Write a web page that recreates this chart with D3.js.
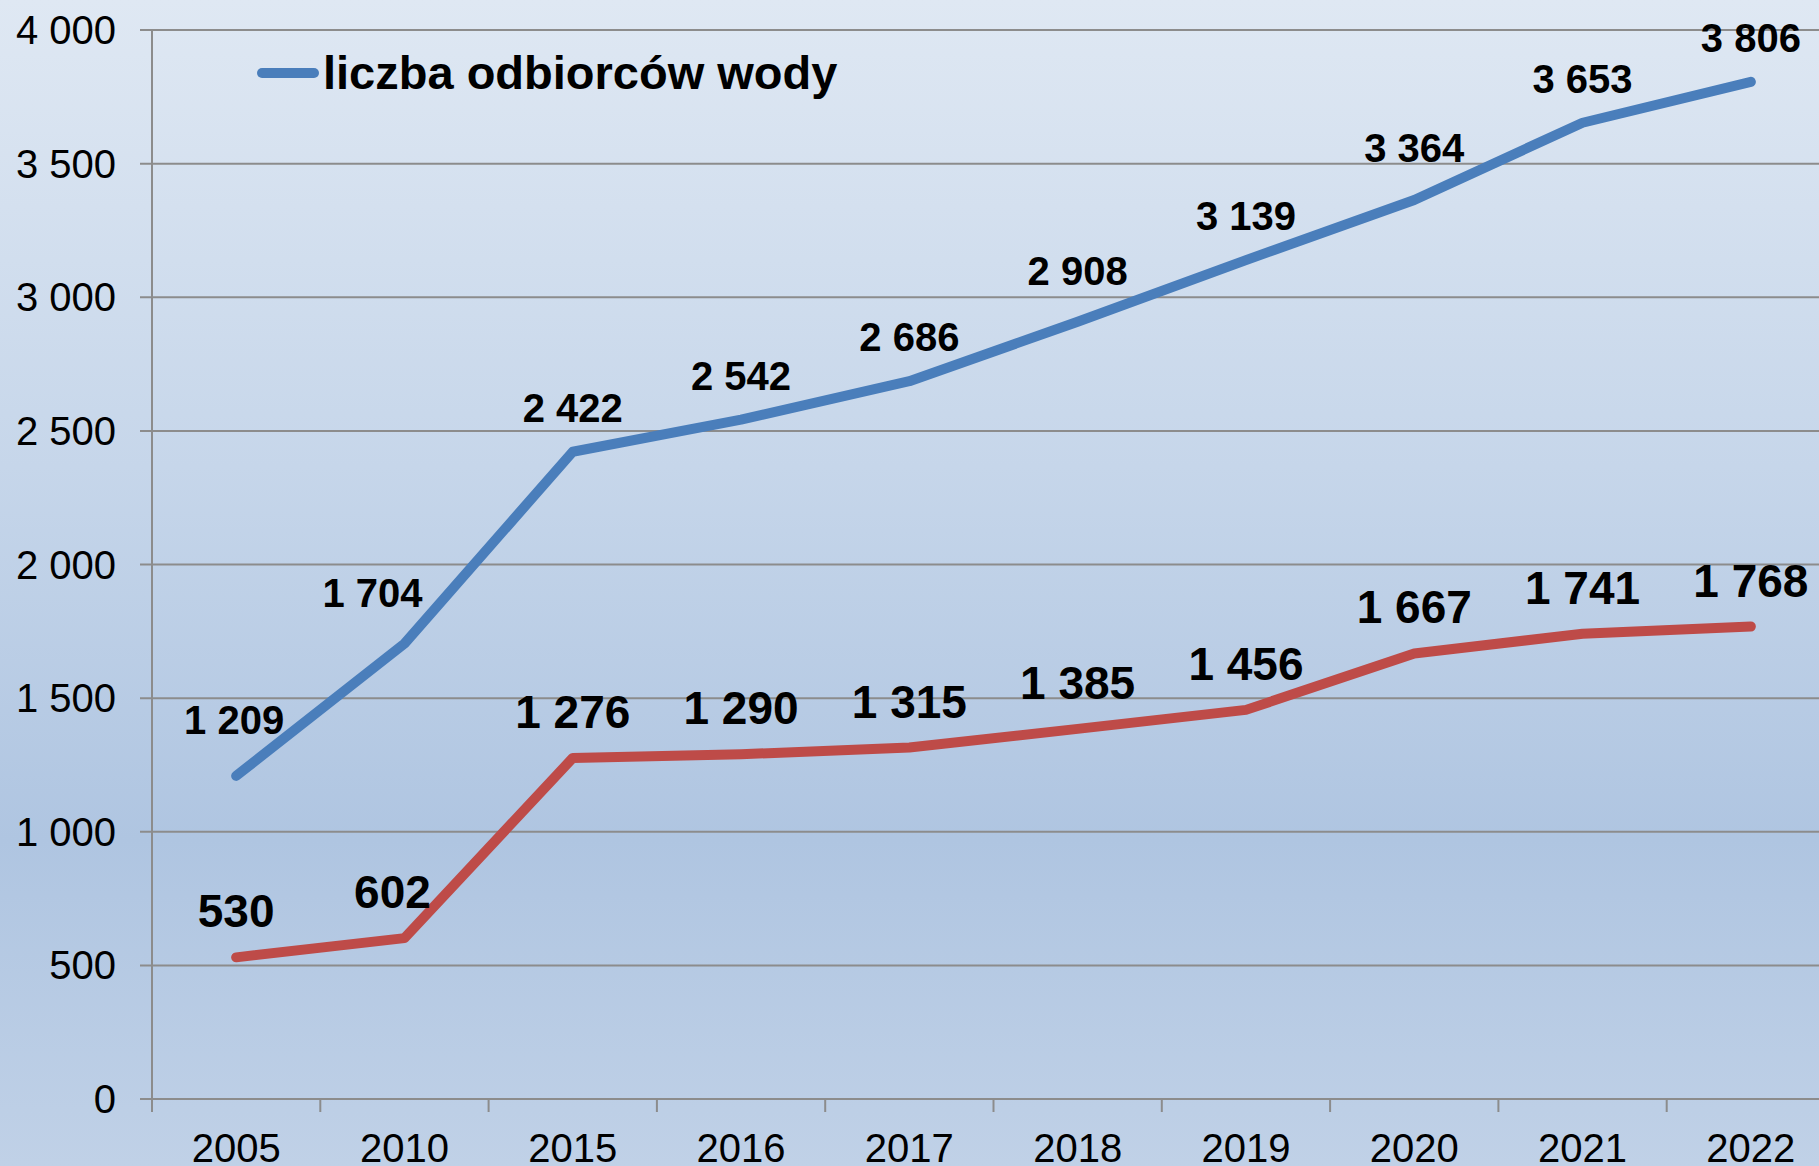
<!DOCTYPE html>
<html>
<head>
<meta charset="utf-8">
<script src="https://cdn.jsdelivr.net/npm/d3@7"></script>
<style>
  html, body { margin: 0; padding: 0; overflow: hidden; }
  svg { display: block; font-family: "Liberation Sans", Arial, sans-serif; }
</style>
</head>
<body>
<div id="chart"></div>
<script>
const years = ["2005", "2010", "2015", "2016", "2017", "2018", "2019", "2020", "2021", "2022"];
const odbiorcyWody = [1209, 1704, 2422, 2542, 2686, 2908, 3139, 3364, 3653, 3806];
const drugaSeria = [530, 602, 1276, 1290, 1315, 1385, 1456, 1667, 1741, 1768];
const yTicks = [0, 500, 1000, 1500, 2000, 2500, 3000, 3500, 4000];
const legendLabel = "liczba odbiorców wody";

const W = 1819, H = 1166;
const margin = { top: 30, left: 152 };
const plotW = 1683, plotH = 1069;

const svg = d3.select("#chart")
    .append("svg")
    .attr("width", W)
    .attr("height", H);

// background gradient
const grad = svg.append("defs").append("linearGradient")
    .attr("id", "bg")
    .attr("x1", 0).attr("y1", 0).attr("x2", 0).attr("y2", 1);
grad.append("stop").attr("offset", "0%").attr("stop-color", "#dfe8f3");
grad.append("stop").attr("offset", "40%").attr("stop-color", "#c6d6ea");
grad.append("stop").attr("offset", "72%").attr("stop-color", "#afc5e1");
grad.append("stop").attr("offset", "100%").attr("stop-color", "#c0d1e7");

svg.append("rect")
    .attr("width", W).attr("height", H)
    .attr("fill", "url(#bg)");

const g = svg.append("g")
    .attr("transform", `translate(${margin.left},${margin.top})`);

const x = d3.scaleBand()
    .domain(years)
    .range([0, plotW]);

const y = d3.scaleLinear()
    .domain([0, 4000])
    .range([plotH, 0]);

const fmt = v => d3.format(",")(v).replace(/,/g, " ");

// gridlines
g.append("g")
    .selectAll("line")
    .data(yTicks)
    .join("line")
    .attr("x1", -12)
    .attr("x2", plotW)
    .attr("y1", d => y(d))
    .attr("y2", d => y(d))
    .attr("stroke", "#8c8c8c")
    .attr("stroke-width", 2);

// y axis labels
g.append("g")
    .selectAll("text")
    .data(yTicks)
    .join("text")
    .attr("x", -36)
    .attr("y", d => y(d))
    .attr("dy", "0.35em")
    .attr("text-anchor", "end")
    .attr("font-size", 40)
    .attr("fill", "#000")
    .text(d => fmt(d));

// left axis line
g.append("line")
    .attr("x1", 0).attr("x2", 0)
    .attr("y1", 0).attr("y2", plotH + 13)
    .attr("stroke", "#8c8c8c")
    .attr("stroke-width", 2);

// x axis ticks at band boundaries
g.append("g")
    .selectAll("line")
    .data(years)
    .join("line")
    .attr("x1", d => x(d) + x.bandwidth())
    .attr("x2", d => x(d) + x.bandwidth())
    .attr("y1", plotH)
    .attr("y2", plotH + 13)
    .attr("stroke", "#8c8c8c")
    .attr("stroke-width", 2);

// x axis labels
g.append("g")
    .selectAll("text")
    .data(years)
    .join("text")
    .attr("x", d => x(d) + x.bandwidth() / 2)
    .attr("y", plotH + 63)
    .attr("text-anchor", "middle")
    .attr("font-size", 40)
    .attr("fill", "#000")
    .text(d => d);

const line = d3.line()
    .x((d, i) => x(years[i]) + x.bandwidth() / 2)
    .y(d => y(d));

// small label nudges where Excel pushed labels off the line
const series = [
    { values: odbiorcyWody, color: "#4a7ebb", fontSize: 40, lift: 30,
      nudge: { "2005": [-2, 12], "2010": [-32, 7], "2018": [0, 7], "2020": [0, 8] } },
    { values: drugaSeria, color: "#be4b48", fontSize: 46, lift: 30,
      nudge: { "2010": [-12, 0] } }
];

series.forEach(s => {
    g.append("path")
        .datum(s.values)
        .attr("d", line)
        .attr("fill", "none")
        .attr("stroke", s.color)
        .attr("stroke-width", 10)
        .attr("stroke-linecap", "round")
        .attr("stroke-linejoin", "round");
});

series.forEach(s => {
    g.append("g")
        .selectAll("text")
        .data(s.values)
        .join("text")
        .attr("x", (d, i) => x(years[i]) + x.bandwidth() / 2 + ((s.nudge[years[i]] || [0, 0])[0]))
        .attr("y", (d, i) => y(d) - s.lift - ((s.nudge[years[i]] || [0, 0])[1]))
        .attr("text-anchor", "middle")
        .attr("font-size", s.fontSize)
        .attr("font-weight", "bold")
        .attr("fill", "#000")
        .text(d => fmt(d));
});

// legend
const legend = svg.append("g").attr("transform", "translate(258,73)");
legend.append("line")
    .attr("x1", 4).attr("x2", 56)
    .attr("y1", 0).attr("y2", 0)
    .attr("stroke", "#4a7ebb")
    .attr("stroke-width", 10)
    .attr("stroke-linecap", "round");
legend.append("text")
    .attr("x", 65)
    .attr("y", 0)
    .attr("dy", "0.35em")
    .attr("font-size", 47)
    .attr("font-weight", "bold")
    .attr("fill", "#000")
    .text(legendLabel);
</script>
</body>
</html>
